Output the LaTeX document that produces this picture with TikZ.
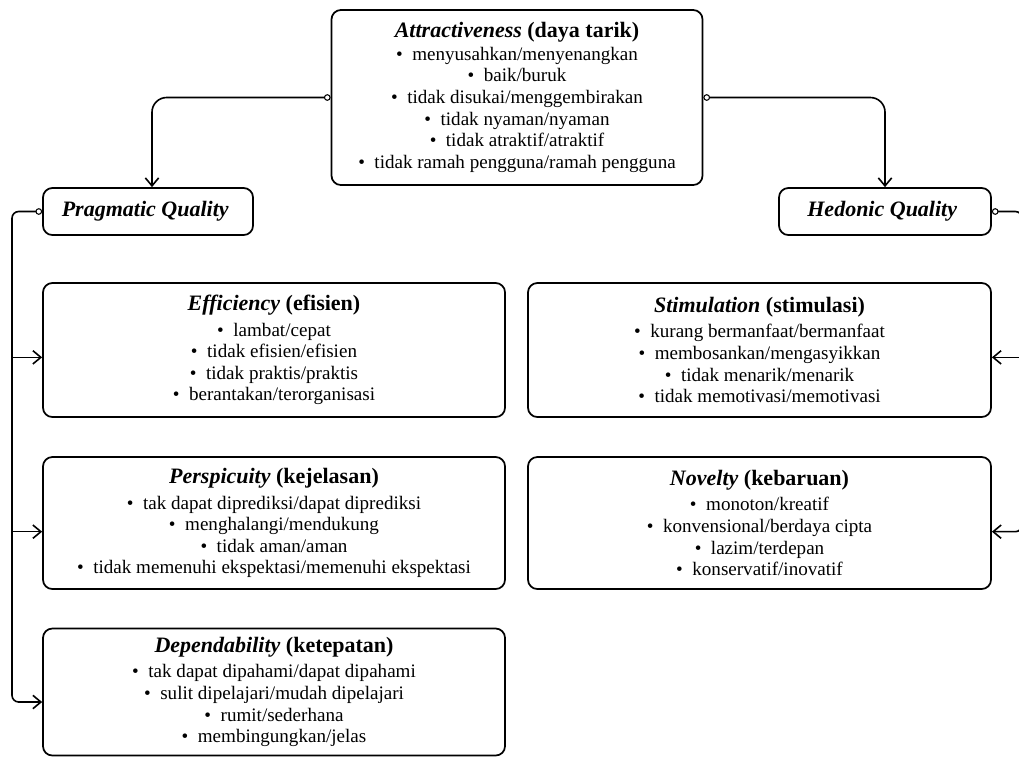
\documentclass[tikz,border=0pt]{standalone}
\usepackage{fontspec}
\setmainfont{Liberation Serif}
\usetikzlibrary{arrows.meta,positioning}

\newcommand{\itm}{\textbullet\hspace{0.5em}}
\newcommand{\ttl}[2]{{\fontsize{16.5}{19}\selectfont\textbf{\textit{#1} #2}}}

\begin{document}
\begin{tikzpicture}[x=0.75pt,y=-0.75pt]
		\tikzset{box/.style={draw, line width=1.3pt, rounded corners=7pt, align=center, inner sep=0, font=\fontsize{14.3}{16.2}\selectfont}}
		\tikzset{conn/.style={line width=1.2pt, rounded corners=11pt, {Circle[open,length=5pt,width=5pt,line width=0.8pt]}-{Straight Barb[length=6pt,width=10pt]}}}
		\tikzset{branch/.style={line width=1.2pt, -{Straight Barb[length=6pt,width=10pt]}}}
		\useasboundingbox (0,0) rectangle (1019,758);
		% top level
		\node[box, minimum width=278.25pt, minimum height=131.25pt] at (517,97.5) (attr) {\ttl{Attractiveness}{(daya tarik)}\\[0.5pt]
			\itm menyusahkan/menyenangkan\\ \itm baik/buruk\\ \itm tidak disukai/menggembirakan\\
			\itm tidak nyaman/nyaman\\ \itm tidak atraktif/atraktif\\ \itm tidak ramah pengguna/ramah pengguna};
		\node[box, minimum width=157.5pt, minimum height=35.25pt] at (148,211.5) (prag) {\ttl{Pragmatic Quality}{}};
		\node[box, minimum width=159pt, minimum height=35.25pt] at (885,211.5) (hed) {\ttl{Hedonic Quality}{}};
		% pragmatic scales
		\node[box, minimum width=346.5pt, minimum height=100.5pt] at (274,350) (eff) {\ttl{Efficiency}{(efisien)}\\[3pt]
			\itm lambat/cepat\\ \itm tidak efisien/efisien\\ \itm tidak praktis/praktis\\ \itm berantakan/terorganisasi};
		\node[box, minimum width=346.5pt, minimum height=99pt] at (274,523) (persp) {\ttl{Perspicuity}{(kejelasan)}\\[3pt]
			\itm tak dapat diprediksi/dapat diprediksi\\ \itm menghalangi/mendukung\\ \itm tidak aman/aman\\ \itm tidak memenuhi ekspektasi/memenuhi ekspektasi};
		\node[box, minimum width=346.5pt, minimum height=95.25pt] at (274,692) (dep) {\ttl{Dependability}{(ketepatan)}\\[3pt]
			\itm tak dapat dipahami/dapat dipahami\\ \itm sulit dipelajari/mudah dipelajari\\ \itm rumit/sederhana\\ \itm membingungkan/jelas};
		% hedonic scales
		\node[box, minimum width=347.25pt, minimum height=100.5pt] at (759.5,350) (stim) {\ttl{Stimulation}{(stimulasi)}\\[3pt]
			\itm kurang bermanfaat/bermanfaat\\ \itm membosankan/mengasyikkan\\ \itm tidak menarik/menarik\\ \itm tidak memotivasi/memotivasi};
		\node[box, minimum width=347.25pt, minimum height=99pt] at (759.5,523) (nov) {\ttl{Novelty}{(kebaruan)}\\[3pt]
			\itm monoton/kreatif\\ \itm konvensional/berdaya cipta\\ \itm lazim/terdepan\\ \itm konservatif/inovatif};
		\coordinate (ltrunk) at (12,211.5);
		\coordinate (rtrunk) at (1022,211.5);
		\draw[conn] (attr.west) -| ([xshift=3pt]prag.north);
		\draw[conn] (attr.east) -| (hed.north);
		\draw[conn, rounded corners=5pt] (prag.west) -- (ltrunk) |- ([yshift=-7.5pt]dep.west);
		\draw[branch] ([yshift=-5.5pt]eff.west -| ltrunk) -- ([yshift=-5.5pt]eff.west);
		\draw[branch] ([yshift=-6.5pt]persp.west -| ltrunk) -- ([yshift=-6.5pt]persp.west);
		\draw[conn, rounded corners=5pt] (hed.east) -- (rtrunk) |- ([yshift=-6.5pt]nov.east);
		\draw[branch] ([yshift=-5.5pt]stim.east -| rtrunk) -- ([yshift=-5.5pt]stim.east);
	\end{tikzpicture}
\end{document}
